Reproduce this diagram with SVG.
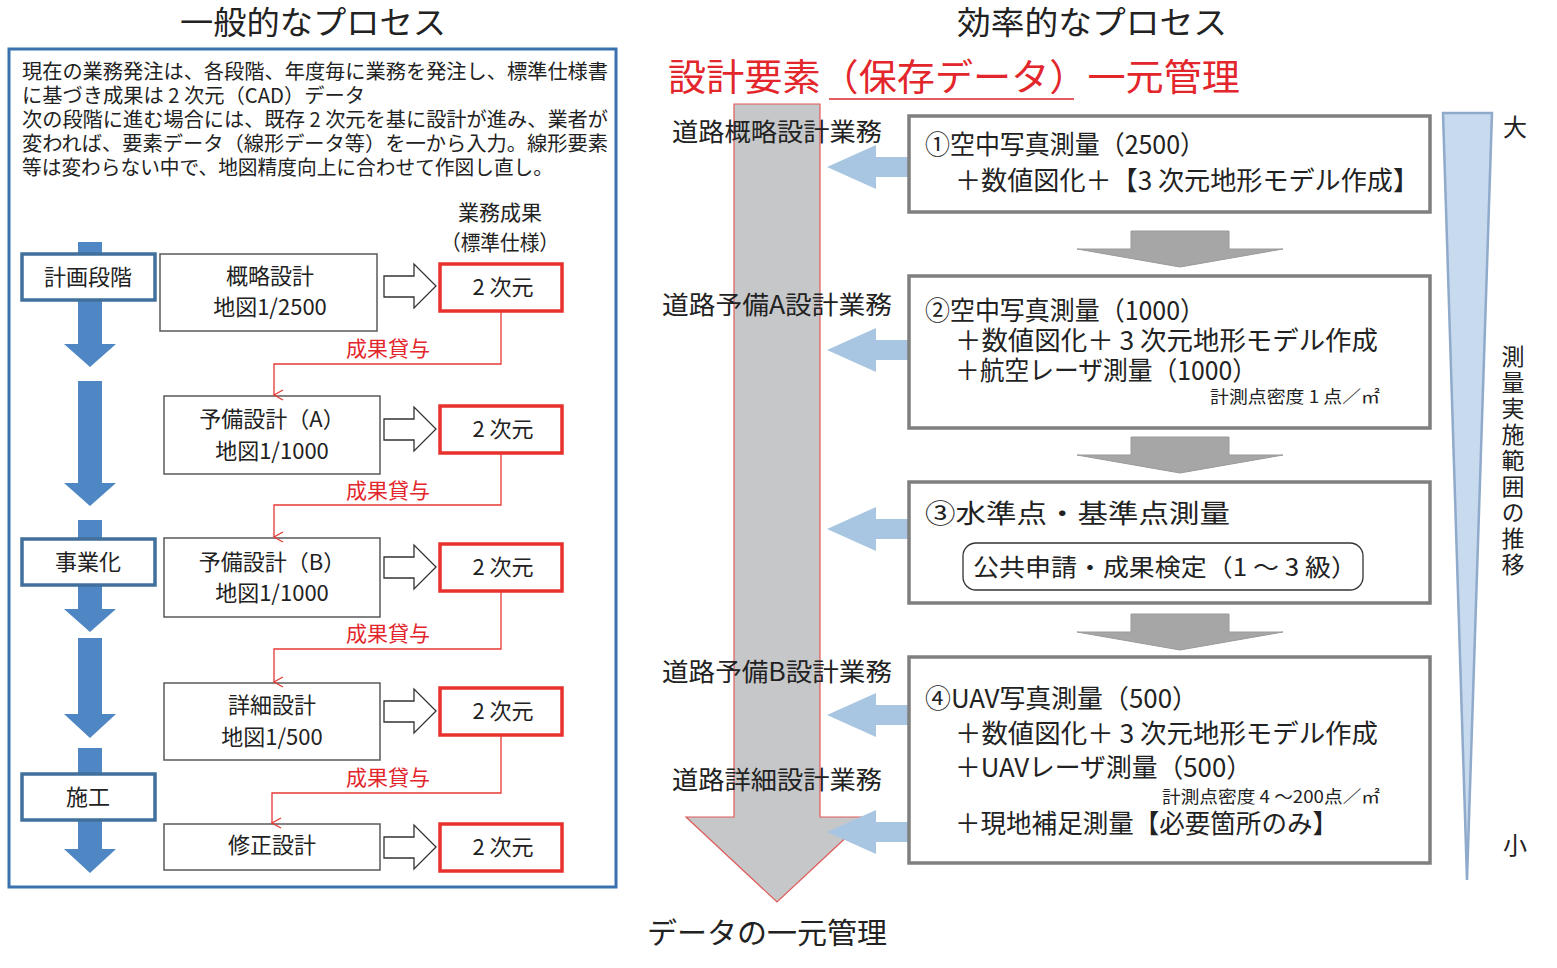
<svg xmlns="http://www.w3.org/2000/svg" width="1557" height="968" viewBox="0 0 1557 968">
<style>
text{font-family:"Noto Sans CJK JP","Noto Sans",sans-serif;fill:#222}
.red{fill:#E3262C}
.c{text-anchor:middle}
.stage rect{fill:#fff;stroke:#41709C;stroke-width:3.5}
.box rect{fill:#fff;stroke:#595959;stroke-width:1.5}
.out rect{fill:#fff;stroke:#E8302C;stroke-width:3.5}
.rbox rect{fill:#fff;stroke:#7F7F7F;stroke-width:3.5}
.barrow{fill:#4F87C5}
.hollow{fill:#fff;stroke:#333;stroke-width:1.3}
.lend{fill:none;stroke:#E53935;stroke-width:1.3}
.lb{fill:#A8C6E1}
.gd{fill:#A6A6A6;stroke:#9A9A9A;stroke-width:1}
</style>
<defs>
<marker id="vee" markerWidth="12" markerHeight="12" refX="6" refY="10" orient="auto-start-reverse" markerUnits="userSpaceOnUse" viewBox="0 0 12 12">
<path d="M1,1 L6,10 L11,1" fill="none" stroke="#E53935" stroke-width="1.3"/>
</marker>
</defs>
<rect width="1557" height="968" fill="#fff"/>

<!-- Left panel -->
<text class="c" x="313" y="34" font-size="32" textLength="266" lengthAdjust="spacingAndGlyphs">一般的なプロセス</text>
<rect x="9" y="49" width="607" height="838" fill="none" stroke="#3A72B0" stroke-width="3"/>
<g id="desc" font-size="20">
<text x="22" y="79" textLength="586" lengthAdjust="spacingAndGlyphs">現在の業務発注は、各段階、年度毎に業務を発注し、標準仕様書</text>
<text x="22" y="103" textLength="343" lengthAdjust="spacingAndGlyphs">に基づき成果は 2 次元（CAD）データ</text>
<text x="22" y="127" textLength="586" lengthAdjust="spacingAndGlyphs">次の段階に進む場合には、既存 2 次元を基に設計が進み、業者が</text>
<text x="22" y="151" textLength="586" lengthAdjust="spacingAndGlyphs">変われば、要素データ（線形データ等）を一から入力。線形要素</text>
<text x="22" y="175" textLength="531" lengthAdjust="spacingAndGlyphs">等は変わらない中で、地図精度向上に合わせて作図し直し。</text>
</g>
<g id="result-head" font-size="21">
<text class="c" x="500" y="220">業務成果</text>
<text class="c" x="500" y="250" textLength="118" lengthAdjust="spacingAndGlyphs">（標準仕様）</text>
</g>

<g id="stage-arrows">
<polygon class="barrow" points="78,242 102,242 102,344 116,344 90,367 64,344 78,344"/>
<polygon class="barrow" points="78,381 102,381 102,483 116,483 90,506 64,483 78,483"/>
<polygon class="barrow" points="78,520 102,520 102,609 116,609 90,632 64,609 78,609"/>
<polygon class="barrow" points="78,638 102,638 102,714 116,714 90,738 64,714 78,714"/>
<polygon class="barrow" points="78,748 102,748 102,849 116,849 90,873 64,849 78,849"/>
</g>
<g id="stage-plan" class="stage"><rect x="22" y="254" width="133" height="46"/><text class="c" x="88" y="285" font-size="22">計画段階</text></g>
<g id="stage-biz" class="stage"><rect x="22" y="539" width="133" height="46"/><text class="c" x="88" y="570" font-size="22">事業化</text></g>
<g id="stage-build" class="stage"><rect x="22" y="774" width="133" height="46"/><text class="c" x="88" y="805" font-size="22">施工</text></g>

<g id="d1" class="box"><rect x="160" y="254" width="217" height="77"/><text class="c" x="270" y="284" font-size="22">概略設計</text><text class="c" x="270" y="315" font-size="22">地図1/2500</text></g>
<g id="d2" class="box"><rect x="164" y="396" width="216" height="78"/><text class="c" x="272" y="427" font-size="22">予備設計（A）</text><text class="c" x="272" y="459" font-size="22">地図1/1000</text></g>
<g id="d3" class="box"><rect x="164" y="538" width="216" height="79"/><text class="c" x="272" y="570" font-size="22">予備設計（B）</text><text class="c" x="272" y="601" font-size="22">地図1/1000</text></g>
<g id="d4" class="box"><rect x="164" y="683" width="216" height="77"/><text class="c" x="272" y="713" font-size="22">詳細設計</text><text class="c" x="272" y="745" font-size="22">地図1/500</text></g>
<g id="d5" class="box"><rect x="164" y="824" width="216" height="46"/><text class="c" x="272" y="853" font-size="22">修正設計</text></g>

<g id="o1" class="out"><rect x="440" y="264" width="122" height="47"/><text class="c" x="503" y="295" font-size="22">2 次元</text></g>
<g id="o2" class="out"><rect x="440" y="406" width="122" height="47"/><text class="c" x="503" y="437" font-size="22">2 次元</text></g>
<g id="o3" class="out"><rect x="440" y="544" width="122" height="47"/><text class="c" x="503" y="575" font-size="22">2 次元</text></g>
<g id="o4" class="out"><rect x="440" y="688" width="122" height="47"/><text class="c" x="503" y="719" font-size="22">2 次元</text></g>
<g id="o5" class="out"><rect x="440" y="824" width="122" height="47"/><text class="c" x="503" y="855" font-size="22">2 次元</text></g>

<g id="connectors-left">
<path class="hollow" d="M384,276 H414 V264 L436,286 L414,308 V297 H384 Z"/>
<path class="hollow" d="M384,419 H414 V407 L436,429 L414,451 V440 H384 Z"/>
<path class="hollow" d="M384,557 H414 V545 L436,567 L414,589 V578 H384 Z"/>
<path class="hollow" d="M384,701 H414 V689 L436,711 L414,733 V722 H384 Z"/>
<path class="hollow" d="M384,837 H414 V825 L436,847 L414,869 V858 H384 Z"/>
<path class="lend" d="M501,311 V364 H274 V395" marker-end="url(#vee)"/>
<path class="lend" d="M501,453 V505 H274 V537" marker-end="url(#vee)"/>
<path class="lend" d="M501,591 V649 H274 V682" marker-end="url(#vee)"/>
<path class="lend" d="M501,735 V793 H272 V823" marker-end="url(#vee)"/>
<g font-size="21">
<text class="c red" x="388" y="356">成果貸与</text>
<text class="c red" x="388" y="498">成果貸与</text>
<text class="c red" x="388" y="641">成果貸与</text>
<text class="c red" x="388" y="785">成果貸与</text>
</g>
</g>

<!-- Right panel -->
<text class="c" x="1092" y="34" font-size="32" textLength="270" lengthAdjust="spacingAndGlyphs">効率的なプロセス</text>
<text class="red" x="668" y="91" font-size="37" textLength="572" lengthAdjust="spacingAndGlyphs">設計要素（保存データ）一元管理</text>
<line x1="829" y1="99" x2="1074" y2="99" stroke="#D9262C" stroke-width="1.5"/>

<g id="data-arrow">
<polygon points="734,104 820,104 820,817 868,817 777,902 686,817 734,817" fill="#C6C7C9" stroke="#E05A5A" stroke-width="1.2"/>
</g>
<g id="work-labels" font-size="25">
<text class="c" x="777" y="141" textLength="210" lengthAdjust="spacingAndGlyphs">道路概略設計業務</text>
<text class="c" x="777" y="314" textLength="230" lengthAdjust="spacingAndGlyphs">道路予備A設計業務</text>
<text class="c" x="777" y="681" textLength="230" lengthAdjust="spacingAndGlyphs">道路予備B設計業務</text>
<text class="c" x="777" y="789" textLength="210" lengthAdjust="spacingAndGlyphs">道路詳細設計業務</text>
</g>
<text class="c" x="767" y="944" font-size="29" textLength="240" lengthAdjust="spacingAndGlyphs">データの一元管理</text>

<g id="connectors-right">
<path class="lb" d="M910,157 H876 V145 L827,167 L876,189 V177 H910 Z"/>
<path class="lb" d="M910,340 H876 V328 L827,350 L876,372 V360 H910 Z"/>
<path class="lb" d="M910,519 H876 V507 L827,529 L876,551 V539 H910 Z"/>
<path class="lb" d="M910,705 H876 V693 L827,715 L876,737 V725 H910 Z"/>
<path class="lb" d="M910,822 H876 V810 L827,832 L876,854 V842 H910 Z"/>
<polygon class="gd" points="1131,231 1229,231 1229,249 1283,249 1180,267 1077,249 1131,249"/>
<polygon class="gd" points="1131,437 1229,437 1229,455 1283,455 1180,473 1077,455 1131,455"/>
<polygon class="gd" points="1131,614 1229,614 1229,632 1283,632 1180,650 1077,632 1131,632"/>
</g>

<g id="s1" class="rbox"><rect x="909" y="116" width="521" height="96"/>
<text x="925" y="154" font-size="26" textLength="280" lengthAdjust="spacingAndGlyphs">①空中写真測量（2500）</text>
<text x="955" y="190" font-size="26" textLength="464" lengthAdjust="spacingAndGlyphs">＋数値図化＋【3 次元地形モデル作成】</text>
</g>
<g id="s2" class="rbox"><rect x="909" y="276" width="521" height="152"/>
<text x="925" y="320" font-size="26" textLength="280" lengthAdjust="spacingAndGlyphs">②空中写真測量（1000）</text>
<text x="955" y="350" font-size="26" textLength="423" lengthAdjust="spacingAndGlyphs">＋数値図化＋ 3 次元地形モデル作成</text>
<text x="955" y="380" font-size="26" textLength="302" lengthAdjust="spacingAndGlyphs">＋航空レーザ測量（1000）</text>
<text x="1210" y="403" font-size="17" textLength="170" lengthAdjust="spacingAndGlyphs">計測点密度 1 点／㎡</text>
</g>
<g id="s3" class="rbox"><rect x="909" y="482" width="521" height="121"/>
<text x="925" y="523" font-size="26" textLength="305" lengthAdjust="spacingAndGlyphs">③水準点・基準点測量</text>
<rect x="963" y="543" width="400" height="47" rx="13" style="stroke:#333;stroke-width:1.3"/>
<text x="973" y="576" font-size="24" textLength="384" lengthAdjust="spacingAndGlyphs">公共申請・成果検定（1 ～ 3 級）</text>
</g>
<g id="s4" class="rbox"><rect x="909" y="657" width="521" height="206"/>
<text x="925" y="708" font-size="26" textLength="273" lengthAdjust="spacingAndGlyphs">④UAV写真測量（500）</text>
<text x="955" y="743" font-size="26" textLength="423" lengthAdjust="spacingAndGlyphs">＋数値図化＋ 3 次元地形モデル作成</text>
<text x="955" y="777" font-size="26" textLength="297" lengthAdjust="spacingAndGlyphs">＋UAVレーザ測量（500）</text>
<text x="1162" y="803" font-size="17" textLength="218" lengthAdjust="spacingAndGlyphs">計測点密度 4 ～200点／㎡</text>
<text x="955" y="833" font-size="26" textLength="383" lengthAdjust="spacingAndGlyphs">＋現地補足測量【必要箇所のみ】</text>
</g>

<g id="range">
<polygon points="1443,113 1492,113 1467,880" fill="#C8DAEE" stroke="#8FAACB" stroke-width="2.5"/>
<text class="c" x="1515" y="136" font-size="24">大</text>
<text class="c" x="1515" y="854" font-size="24">小</text>
<text x="1513" y="345" font-size="23" writing-mode="vertical-rl" style="writing-mode:vertical-rl" letter-spacing="3">測量実施範囲の推移</text>
</g>
</svg>
